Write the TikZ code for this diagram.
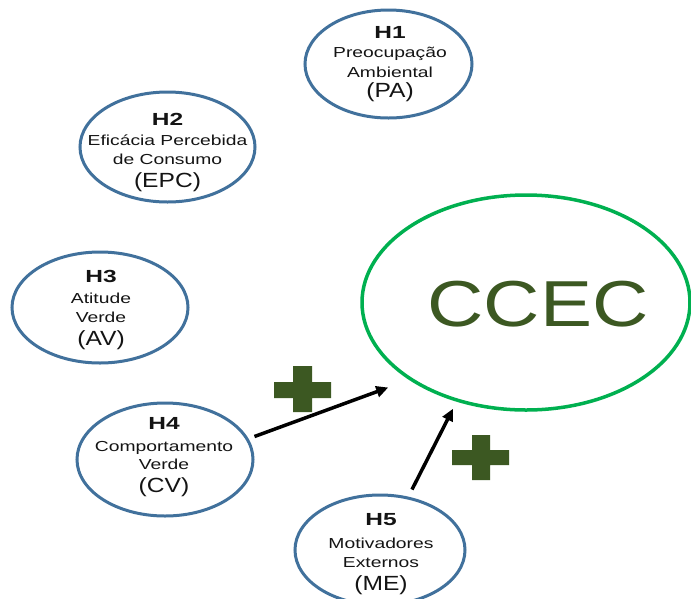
\documentclass[tikz,border=0pt]{standalone}
\usepackage{graphicx}
\usepackage{fontspec}
\setmainfont{Liberation Sans}
\usetikzlibrary{shapes.geometric,arrows.meta}
\definecolor{hblue}{RGB}{65,113,156}
\definecolor{cgreen}{RGB}{0,176,80}
\definecolor{dgreen}{RGB}{60,88,34}
\definecolor{txt}{RGB}{20,20,20}
\newcommand{\hxs}[1]{\scalebox{1.4}[1]{#1}}
\newcommand{\bxs}[1]{\scalebox{1.33}[1]{#1}}
\newcommand{\axs}[1]{\scalebox{1.2}[1]{#1}}
\begin{document}
\begin{tikzpicture}[x=1pt,y=-1pt,
  hyp/.style={ellipse, draw=hblue, line width=3pt, inner sep=0pt},
  hlab/.style={anchor=base, inner sep=0pt, text=txt, font=\fontsize{17.5}{17.5}\selectfont\bfseries},
  blab/.style={anchor=base, inner sep=0pt, text=txt, font=\fontsize{14.5}{14.5}\selectfont},
  alab/.style={anchor=base, inner sep=0pt, text=txt, font=\fontsize{20.5}{20.5}\selectfont},
  arr/.style={line width=3.5pt, -{Triangle[length=12pt,width=11pt]}},
  plusfill/.style={fill=dgreen}
]
\fill[white] (0,0) rectangle (691,598);
\useasboundingbox (0,0) rectangle (691,598);

% hypothesis ellipses
\node[hyp, minimum width=167pt, minimum height=108pt] (h1) at (388.5,64) {};
\node[hyp, minimum width=175pt, minimum height=110pt] (h2) at (167.5,147) {};
\node[hyp, minimum width=176pt, minimum height=111pt] (h3) at (100,307.5) {};
\node[hyp, minimum width=176pt, minimum height=113pt] (h4) at (165,459.5) {};
\node[hyp, minimum width=170pt, minimum height=110pt] (h5) at (380,550) {};

% CCEC
\node[ellipse, draw=cgreen, line width=3.5pt, inner sep=0pt,
      minimum width=328pt, minimum height=215pt] (ccec) at (526,302.5) {};
\node[anchor=base, inner sep=0pt, text=dgreen, font=\fontsize{65}{65}\selectfont]
      (ccect) at (538,326) {\scalebox{1.2}[1]{CCEC}};

% H1 texts
\node[hlab] (h1a) at (390,38) {\hxs{H1}};
\node[blab] (h1b) at (390,57) {\bxs{Preocupação}};
\node[blab] (h1c) at (390,77) {\bxs{Ambiental}};
\node[alab] (h1d) at (390,97) {\axs{(PA)}};
% H2 texts
\node[hlab] (h2a) at (167.5,125) {\hxs{H2}};
\node[blab] (h2b) at (167.5,145) {\bxs{Eficácia Percebida}};
\node[blab] (h2c) at (167.5,164) {\bxs{de Consumo}};
\node[alab] (h2d) at (167.5,187) {\axs{(EPC)}};
% H3 texts
\node[hlab] (h3a) at (101,282) {\hxs{H3}};
\node[blab] (h3b) at (101,303) {\bxs{Atitude}};
\node[blab] (h3c) at (101,322) {\bxs{Verde}};
\node[alab] (h3d) at (101,345) {\axs{(AV)}};
% H4 texts
\node[hlab] (h4a) at (164,429) {\hxs{H4}};
\node[blab] (h4b) at (164,451) {\bxs{Comportamento}};
\node[blab] (h4c) at (164,469) {\bxs{Verde}};
\node[alab] (h4d) at (164,492) {\axs{(CV)}};
% H5 texts
\node[hlab] (h5a) at (381,525) {\hxs{H5}};
\node[blab] (h5b) at (381,548) {\bxs{Motivadores}};
\node[blab] (h5c) at (381,567) {\bxs{Externos}};
\node[alab] (h5d) at (381,590) {\axs{(ME)}};

% arrows
\coordinate (a1s) at ([shift={(0,-23)}]h4.east);
\coordinate (a1e) at ([shift={(28,85)}]ccec.west);
\coordinate (a2s) at ([shift={(32,-4)}]h5.north);
\coordinate (a2e) at ([shift={(-73,-3)}]ccec.south);
\draw[arr] (a1s) -- (a1e);
\draw[arr] (a2s) -- (a2e);

% plus signs
\fill[plusfill] (274,382) rectangle (331,398) (293,366) rectangle (312,412);
\fill[plusfill] (452,450) rectangle (509,465) (472,435) rectangle (490,480);
\end{tikzpicture}
\end{document}
